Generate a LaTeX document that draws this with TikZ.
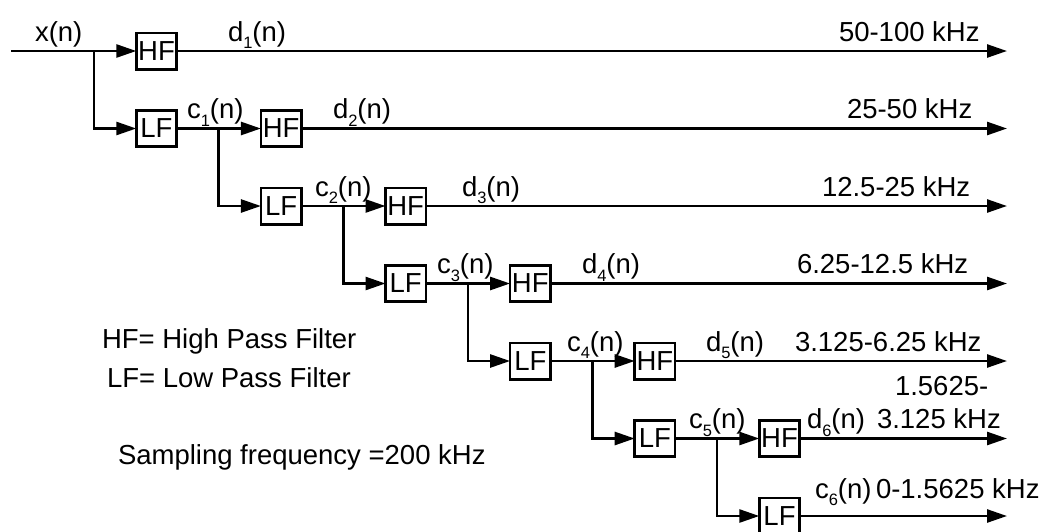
\documentclass[tikz,border=0pt]{standalone}
\usepackage{fontspec}
\setmainfont{Liberation Sans}
\usetikzlibrary{arrows.meta}
\newcommand{\sbs}[1]{\raisebox{-7.5pt}{\fontsize{16.5}{16.5}\selectfont #1}}
\begin{document}
\begin{tikzpicture}[x=1pt,y=-1pt,
  every node/.style={font=\fontsize{27.5}{30}\selectfont, inner sep=0pt, outer sep=0pt},
  filt/.style={draw, line width=2.6pt, minimum width=40.4pt, minimum height=36.4pt, inner sep=0pt},
  conn/.style={line width=2.6pt, -{Triangle[length=20pt,width=13pt]}},
  lbl/.style={anchor=base west}]
\useasboundingbox (0,0) rectangle (1045,531);

% filter boxes
\node[filt] (H0) at (156.5,51)    {HF};
\node[filt] (L0) at (156.5,128.5) {LF};
\node[filt] (H1) at (281.1,128.5) {HF};
\node[filt] (L1) at (281.1,206)   {LF};
\node[filt] (H2) at (405.7,206)   {HF};
\node[filt] (L2) at (405.7,283.5) {LF};
\node[filt] (H3) at (530.3,283.5) {HF};
\node[filt] (L3) at (530.3,361)   {LF};
\node[filt] (H4) at (654.9,361)   {HF};
\node[filt] (L4) at (654.9,438.5) {LF};
\node[filt] (H5) at (779.5,438.5) {HF};
\node[filt] (L5) at (779.5,516)   {LF};

% coordinates
\coordinate (in) at (11,51);
\coordinate (b0) at (94,51);
\coordinate (b1) at (218.6,128.5);
\coordinate (b2) at (343.2,206);
\coordinate (b3) at (467.8,283.5);
\coordinate (b4) at (592.4,361);
\coordinate (b5) at (717,438.5);
\coordinate (e0) at (1007,51);
\coordinate (e1) at (1007,128.5);
\coordinate (e2) at (1007,206);
\coordinate (e3) at (1007,283.5);
\coordinate (e4) at (1007,361);
\coordinate (e5) at (1007,438.5);
\coordinate (e6) at (1007,516);

% connectors
\draw[conn] (in) -- (H0);
\draw[conn] (b0) |- (L0);
\draw[conn] (L0) -- (H1);
\draw[conn] (b1) |- (L1);
\draw[conn] (L1) -- (H2);
\draw[conn] (b2) |- (L2);
\draw[conn] (L2) -- (H3);
\draw[conn] (b3) |- (L3);
\draw[conn] (L3) -- (H4);
\draw[conn] (b4) |- (L4);
\draw[conn] (L4) -- (H5);
\draw[conn] (b5) |- (L5);
\draw[conn] (H0) -- (e0);
\draw[conn] (H1) -- (e1);
\draw[conn] (H2) -- (e2);
\draw[conn] (H3) -- (e3);
\draw[conn] (H4) -- (e4);
\draw[conn] (H5) -- (e5);
\draw[conn] (L5) -- (e6);

% signal labels
\node[lbl] (tx)  at (35,41)    {x(n)};
\node[lbl] (td1) at (228,41)   {d\sbs{1}(n)};
\node[lbl] (tc1) at (187,118.5) {c\sbs{1}(n)};
\node[lbl] (td2) at (333,118.5) {d\sbs{2}(n)};
\node[lbl] (tc2) at (315,196)  {c\sbs{2}(n)};
\node[lbl] (td3) at (462,196)  {d\sbs{3}(n)};
\node[lbl] (tc3) at (437,273.5) {c\sbs{3}(n)};
\node[lbl] (td4) at (582,273.5) {d\sbs{4}(n)};
\node[lbl] (tc4) at (567,351)  {c\sbs{4}(n)};
\node[lbl] (td5) at (706,351)  {d\sbs{5}(n)};
\node[lbl] (tc5) at (689,428.5) {c\sbs{5}(n)};
\node[lbl] (td6) at (807,428.5) {d\sbs{6}(n)};
\node[lbl] (tc6) at (815,498)  {c\sbs{6}(n)};

% band labels
\node[lbl] (f0) at (839,41)    {50-100 kHz};
\node[lbl] (f1) at (847,118.5) {25-50 kHz};
\node[lbl] (f2) at (822,196)   {12.5-25 kHz};
\node[lbl] (f3) at (797,273.5) {6.25-12.5 kHz};
\node[lbl] (f4) at (795,351)   {3.125-6.25 kHz};
\node[lbl] (f5a) at (895,395)  {1.5625-};
\node[lbl] (f5b) at (877,428.5) {3.125 kHz};
\node[lbl] (f6) at (876,498)   {0-1.5625 kHz};

% legend
\node[lbl] (lg1) at (102,348) {HF= High Pass Filter};
\node[lbl] (lg2) at (107,387) {LF= Low Pass Filter};
\node[lbl] (lg3) at (118,464) {Sampling frequency =200 kHz};
\end{tikzpicture}
\end{document}
